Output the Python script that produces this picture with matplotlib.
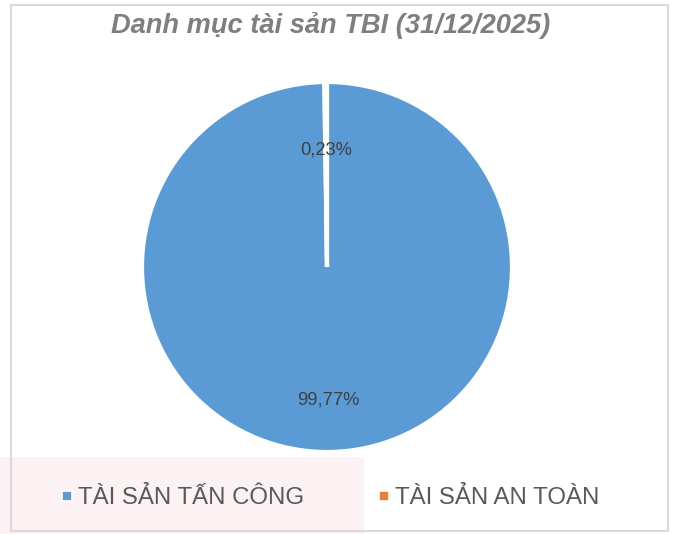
import matplotlib.pyplot as plt
from matplotlib.patches import Rectangle

plt.rcParams['font.family'] = ['Liberation Sans', 'DejaVu Sans']

title = "Danh mục tài sản TBI (31/12/2025)"
categories = ["TÀI SẢN TẤN CÔNG", "TÀI SẢN AN TOÀN"]
shares = [99.77, 0.23]
colors = ["#5B9BD5", "#ED7D31"]
label_dist = [0.72, 0.63]


def fmt(p):
    return ("%.2f%%" % p).replace(".", ",")


def main():
    W, H = 677, 534
    fig = plt.figure(figsize=(W / 100, H / 100), dpi=100)

    # pie area: centre (327, 267) px, radius 185 px
    cx, cy, r = 327, 267, 185
    ax = fig.add_axes([(cx - r) / W, (H - cy - r) / H, 2 * r / W, 2 * r / H])
    wedges, texts, autotexts = ax.pie(
        shares, colors=colors, startangle=90, counterclock=False,
        autopct=fmt, radius=1,
        wedgeprops=dict(edgecolor="white", linewidth=3),
        textprops=dict(fontsize=13.2, color="#404040"))
    import math
    for w, t, d in zip(wedges, autotexts, label_dist):
        ang = math.radians((w.theta1 + w.theta2) / 2)
        t.set_position((d * math.cos(ang), d * math.sin(ang)))
    ax.set_xlim(-1, 1)
    ax.set_ylim(-1, 1)
    ax.axis("off")

    fig.text(331 / W, (H - 33) / H, title, ha="center", va="baseline",
             fontsize=19.6, fontweight="bold", fontstyle="italic", color="#7F7F7F")

    # pinkish strip behind first legend entry, and the outer frame
    fig.add_artist(Rectangle((0, 0), 364 / W, (H - 457) / H, transform=fig.transFigure,
                             facecolor="#FCF1F3", edgecolor="none", zorder=-1))
    fig.add_artist(Rectangle((11 / W, (H - 531) / H), 657 / W, 526 / H,
                             transform=fig.transFigure, fill=False,
                             edgecolor="#D9D9D9", linewidth=1.5, zorder=3))

    handles = []
    for c in colors:
        h, = ax.plot([], [], marker="s", linestyle="none", markersize=6.5,
                     markerfacecolor=c, markeredgecolor="white", markeredgewidth=1.2)
        handles.append(h)
    fig.legend(handles, categories, loc="center left", bbox_to_anchor=(61 / W, (H - 498) / H),
               ncol=2, frameon=False, fontsize=17.3, labelcolor="#595959",
               handlelength=0.5, handletextpad=0.2, columnspacing=3.1,
               borderpad=0, borderaxespad=0)

    fig.savefig("out.png", dpi=100)


if __name__ == "__main__":
    main()
